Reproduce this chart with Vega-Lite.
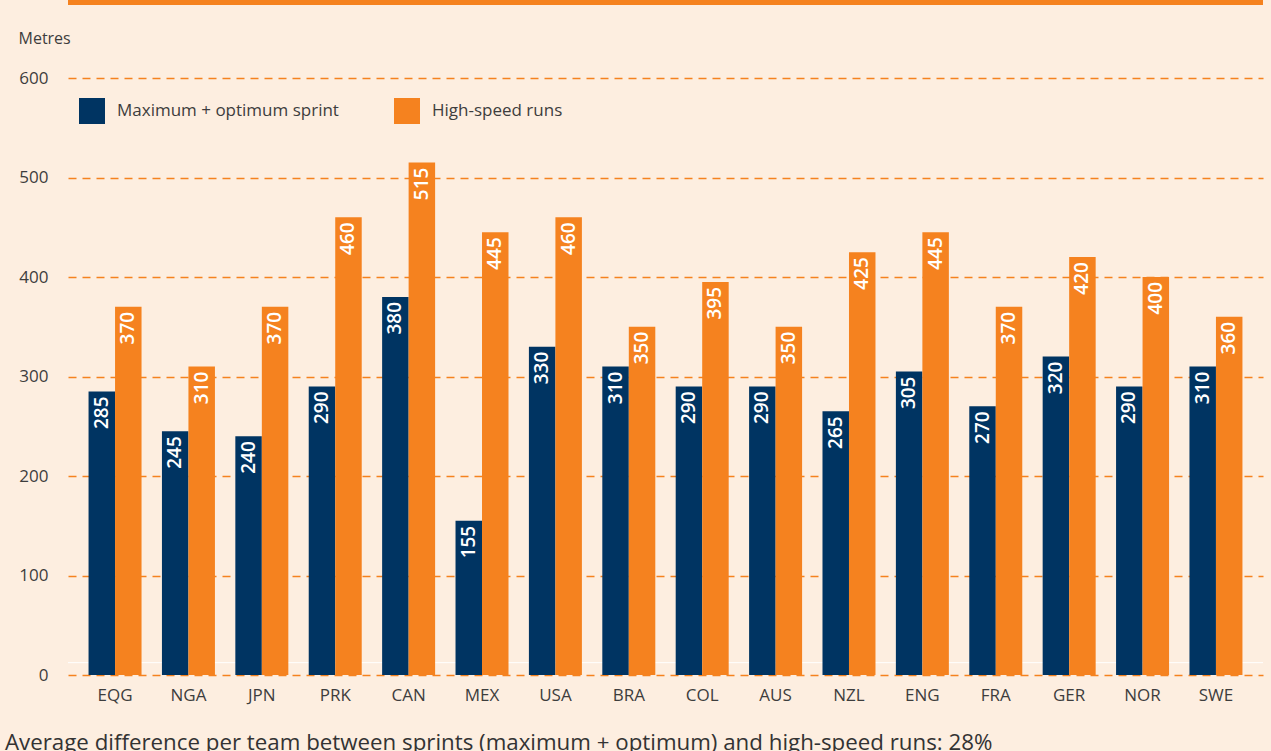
{
  "$schema": "https://vega.github.io/schema/vega-lite/v6.json",
  "width": 1195,
  "height": 675,
  "autosize": {"type": "none"},
  "padding": {"left": 68, "top": 0, "right": 8, "bottom": 76},
  "background": "#fdeee0",
  "config": {
    "view": {"stroke": null},
    "font": "Open Sans",
    "axis": {"labelFont": "Open Sans", "titleFont": "Open Sans", "labelColor": "#3d3d3d", "titleColor": "#3d3d3d"},
    "legend": {"labelFont": "Open Sans"}
  },
  "title": {
    "text": "Average difference per team between sprints (maximum + optimum) and high-speed runs: 28%",
    "orient": "bottom",
    "anchor": "start",
    "frame": "bounds",
    "fontSize": 22.3,
    "fontWeight": "normal",
    "color": "#333333",
    "offset": 29,
    "dx": -13
  },
  "data": {
    "values": [
      {"team": "EQG", "series": "Maximum + optimum sprint", "metres": 285},
      {"team": "EQG", "series": "High-speed runs", "metres": 370},
      {"team": "NGA", "series": "Maximum + optimum sprint", "metres": 245},
      {"team": "NGA", "series": "High-speed runs", "metres": 310},
      {"team": "JPN", "series": "Maximum + optimum sprint", "metres": 240},
      {"team": "JPN", "series": "High-speed runs", "metres": 370},
      {"team": "PRK", "series": "Maximum + optimum sprint", "metres": 290},
      {"team": "PRK", "series": "High-speed runs", "metres": 460},
      {"team": "CAN", "series": "Maximum + optimum sprint", "metres": 380},
      {"team": "CAN", "series": "High-speed runs", "metres": 515},
      {"team": "MEX", "series": "Maximum + optimum sprint", "metres": 155},
      {"team": "MEX", "series": "High-speed runs", "metres": 445},
      {"team": "USA", "series": "Maximum + optimum sprint", "metres": 330},
      {"team": "USA", "series": "High-speed runs", "metres": 460},
      {"team": "BRA", "series": "Maximum + optimum sprint", "metres": 310},
      {"team": "BRA", "series": "High-speed runs", "metres": 350},
      {"team": "COL", "series": "Maximum + optimum sprint", "metres": 290},
      {"team": "COL", "series": "High-speed runs", "metres": 395},
      {"team": "AUS", "series": "Maximum + optimum sprint", "metres": 290},
      {"team": "AUS", "series": "High-speed runs", "metres": 350},
      {"team": "NZL", "series": "Maximum + optimum sprint", "metres": 265},
      {"team": "NZL", "series": "High-speed runs", "metres": 425},
      {"team": "ENG", "series": "Maximum + optimum sprint", "metres": 305},
      {"team": "ENG", "series": "High-speed runs", "metres": 445},
      {"team": "FRA", "series": "Maximum + optimum sprint", "metres": 270},
      {"team": "FRA", "series": "High-speed runs", "metres": 370},
      {"team": "GER", "series": "Maximum + optimum sprint", "metres": 320},
      {"team": "GER", "series": "High-speed runs", "metres": 420},
      {"team": "NOR", "series": "Maximum + optimum sprint", "metres": 290},
      {"team": "NOR", "series": "High-speed runs", "metres": 400},
      {"team": "SWE", "series": "Maximum + optimum sprint", "metres": 310},
      {"team": "SWE", "series": "High-speed runs", "metres": 360}
    ]
  },
  "layer": [
    {
      "data": {"values": [{"band": "top"}]},
      "mark": {"type": "rule", "color": "#f5821f", "strokeWidth": 5},
      "encoding": {
        "y": {"datum": 675.9, "type": "quantitative", "scale": {"domain": [0, 678.4], "nice": false}}
      }
    },
    {
      "data": {"values": [{"band": "line"}]},
      "mark": {"type": "rule", "color": "#ffffff", "strokeWidth": 1},
      "encoding": {
        "y": {"datum": 12.4, "type": "quantitative"}
      }
    },
    {
      "mark": {"type": "bar"},
      "encoding": {
        "x": {
          "field": "team",
          "type": "nominal",
          "sort": null,
          "scale": {"paddingInner": 0.278, "paddingOuter": 0.28},
          "axis": {"title": null, "domain": false, "ticks": false, "labelAngle": 0, "labelFontSize": 17, "labelPadding": 12}
        },
        "xOffset": {"field": "series", "type": "nominal", "sort": ["Maximum + optimum sprint", "High-speed runs"]},
        "y": {
          "field": "metres",
          "type": "quantitative",
          "scale": {"domain": [0, 678.4], "nice": false},
          "axis": {
            "values": [0, 100, 200, 300, 400, 500, 600],
            "domain": false,
            "ticks": false,
            "labelFontSize": 17,
            "labelPadding": 20,
            "grid": true,
            "gridColor": "#f5821f",
            "gridDash": [8, 6],
            "gridWidth": 1.6,
            "title": "Metres",
            "titleAngle": 0,
            "titleX": -50,
            "titleY": 38,
            "titleAlign": "left",
            "titleBaseline": "middle",
            "titleFontSize": 16,
            "titleFontWeight": "normal"
          }
        },
        "color": {
          "field": "series",
          "type": "nominal",
          "scale": {"domain": ["Maximum + optimum sprint", "High-speed runs"], "range": ["#003462", "#f5821f"]},
          "legend": {
            "title": null,
            "orient": "none",
            "legendX": 11,
            "legendY": 98,
            "direction": "horizontal",
            "symbolType": "square",
            "symbolSize": 676,
            "symbolStrokeWidth": 0,
            "symbolOpacity": 1,
            "labelFontSize": 17,
            "labelColor": "#3d3d3d",
            "labelOffset": 12,
            "labelLimit": 0,
            "columnPadding": 55
          }
        }
      }
    },
    {
      "mark": {"type": "text", "angle": 270, "align": "right", "baseline": "middle", "dx": -5, "color": "#ffffff", "fontSize": 19, "fontWeight": 600},
      "encoding": {
        "x": {"field": "team", "type": "nominal", "sort": null},
        "xOffset": {"field": "series", "type": "nominal", "sort": ["Maximum + optimum sprint", "High-speed runs"]},
        "y": {"field": "metres", "type": "quantitative"},
        "text": {"field": "metres", "type": "quantitative"}
      }
    }
  ]
}
